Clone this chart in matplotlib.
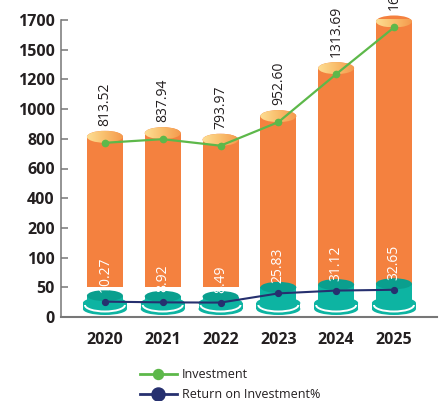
import matplotlib.pyplot as plt
import numpy as np
from matplotlib.patches import Ellipse, Arc, Rectangle
from matplotlib.lines import Line2D
from matplotlib.transforms import ScaledTranslation
from matplotlib.colors import LinearSegmentedColormap

# values as printed on the chart
years = ['2020', '2021', '2022', '2023', '2024', '2025']
investment = [813.52, 837.94, 793.97, 952.60, 1313.69, 1690.00]
invest_labels = ['813.52', '837.94', '793.97', '952.60', '1313.69', '1690.00']
roi = [10.27, 8.92, 8.49, 25.83, 31.12, 32.65]
roi_labels = ['10.27', '8.92', '8.49', '25.83', '31.12', '32.65']
y_ticks = [0, 50, 100, 200, 400, 600, 800, 1000, 1200, 1500, 1700]

ORANGE = '#F4813F'
TEAL = '#0DB4A2'
TEAL_TOP = '#0A9F8E'
GREEN = '#5DB84A'
NAVY = '#26306F'
AXIS = '#777777'
TEXT = '#231F20'
FONT = 'Open Sans'

DPI = 100
fig = plt.figure(figsize=(4.4, 4.01), dpi=DPI)
ax = fig.add_axes([61 / 440, 84 / 401, 376 / 440, 297 / 401])
ax2 = ax.twinx()

# the value axis is evenly spaced between its tick labels
idx = np.arange(len(y_ticks))
ax.set_yscale('function', functions=(lambda v: np.interp(v, y_ticks, idx),
                                     lambda t: np.interp(t, idx, y_ticks)))

xs = np.arange(len(years))
x_lo, x_hi = -0.76, 5.745
px_per_x = 376 / (x_hi - x_lo)
bar_w = 36 / px_per_x
bar_base = y_ticks[1]  # hidden behind the teal cylinders


def px(v):
    return v / DPI


def anchor(axis, x, y):
    # pixel sized shapes pinned to a data point
    return fig.dpi_scale_trans + ScaledTranslation(x, y, axis.transData)


def shift(dy):
    return ScaledTranslation(0, px(dy), fig.dpi_scale_trans)


# orange cylinders (investment)
ax.bar(xs, np.array(investment) - bar_base, width=bar_w, bottom=bar_base,
       color=ORANGE, zorder=2)
top_cmap = LinearSegmentedColormap.from_list('top', ['#FDDD92', '#F9BE6C', '#F59A4E'])
grad = np.linspace(0, 1, 64).reshape(1, -1)
for xi, v in zip(xs, investment):
    tr = anchor(ax, xi, v)
    w, h = px(36), px(12)
    ell = Ellipse((0, 0), w, h, transform=tr, fc=ORANGE, ec='none', zorder=3, clip_on=False)
    ax.add_patch(ell)
    im = ax.imshow(grad, cmap=top_cmap, extent=(-w / 2, w / 2, -h / 2, h / 2),
                   transform=tr, aspect='auto', interpolation='bilinear', zorder=3.1)
    im.set_clip_box(None)
    im.set_clip_path(ell)

ax.plot(xs, investment, color=GREEN, lw=1.6, marker='o', ms=4.5,
        transform=ax.transData + shift(-6), zorder=5)

for xi, v, s in zip(xs, investment, invest_labels):
    ax.text(xi, v, s, transform=ax.transData + shift(11), rotation=90,
            ha='center', va='bottom', fontsize=10, color=TEXT, family=FONT, zorder=6)

# teal cylinders (return on investment) on a hidden second scale
ax2.bar(xs, roi, width=bar_w, color=TEAL, zorder=2)
for xi, r in zip(xs, roi):
    base = anchor(ax, xi, 0)
    ax2.add_patch(Ellipse((0, px(8)), px(44), px(12), transform=base, fc=TEAL, ec='none', zorder=1))
    ax2.add_patch(Rectangle((px(-22), px(8)), px(44), px(6), transform=base, fc=TEAL, ec='none', zorder=1))
    ax2.add_patch(Ellipse((0, px(14)), px(44), px(12), transform=base, fc=TEAL, ec='none', zorder=1))
    ax2.add_patch(Arc((0, px(12)), px(40), px(13), theta1=180, theta2=360, transform=base,
                      ec='white', lw=1.4, zorder=4))
    ax2.add_patch(Ellipse((0, 0), px(36), px(11), transform=anchor(ax2, xi, r),
                          fc=TEAL_TOP, ec='none', zorder=3))

ax2.plot(xs, roi, color=NAVY, lw=1.5, marker='o', ms=4.2,
         transform=ax2.transData + shift(-6), zorder=5)

for xi, r, s in zip(xs, roi, roi_labels):
    ax2.text(xi, r, s, transform=ax2.transData + shift(4), rotation=90,
             ha='center', va='bottom', fontsize=10, color='white', family=FONT, zorder=6)

# axes styling
for s in ['top', 'right']:
    ax.spines[s].set_visible(False)
ax.spines['left'].set_color(AXIS)
ax.spines['left'].set_linewidth(1.1)
ax.spines['bottom'].set_color(AXIS)
ax.spines['bottom'].set_linewidth(1.5)
for s in ax2.spines.values():
    s.set_visible(False)
ax2.tick_params(right=False, labelright=False)

ax.set_xticks(xs)
ax.set_xticklabels(years, family=FONT, fontweight='bold')
ax.set_yticks(y_ticks)
ax.set_yticklabels([str(t) for t in y_ticks], family=FONT, fontweight='bold')
ax.tick_params(axis='y', direction='in', length=5, width=1.1, color=AXIS, pad=4.5,
               labelsize=11.5, labelcolor=TEXT)
ax.tick_params(axis='x', length=0, pad=11, labelsize=11.5, labelcolor=TEXT)

ax.set_xlim(x_lo, x_hi)
ax.set_ylim(0, 1700)
ax2.set_ylim(-30, 530)

handles = [Line2D([], [], color=GREEN, lw=2, marker='o', ms=7.2),
           Line2D([], [], color=NAVY, lw=2, marker='o', ms=9.4)]
fig.legend(handles, ['Investment', 'Return on Investment%'], loc='upper left',
           bbox_to_anchor=(134 / 440, 1 - 362 / 401), frameon=False, borderpad=0,
           handlelength=2.9, handletextpad=0.45, labelspacing=0.55,
           prop={'family': FONT, 'size': 9}, labelcolor=TEXT)

fig.savefig('out.png', dpi=DPI)
